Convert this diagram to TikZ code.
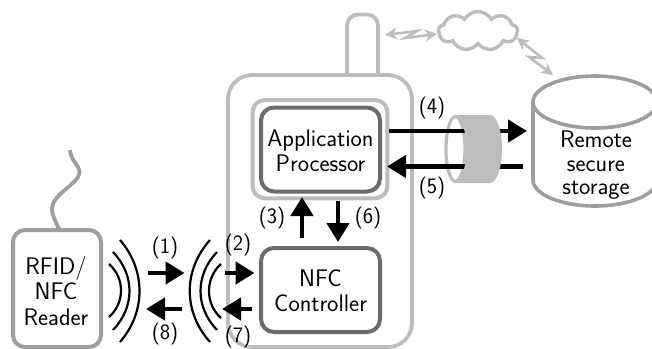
\documentclass[tikz,border=0pt]{standalone}
\usepackage{fontspec}
\usetikzlibrary{arrows.meta,shapes.symbols}
\definecolor{lg}{gray}{0.74}
\definecolor{mg}{gray}{0.62}
\definecolor{dg}{gray}{0.42}
\tikzset{
 x=1pt,y=-1pt,
 txt/.style={font=\sffamily\fontsize{24}{25.5}\selectfont,align=center,text=black,inner sep=0pt},
 txtb/.style={font=\sffamily\fontsize{24}{23.5}\selectfont,align=center,text=black,inner sep=0pt},
 lab/.style={font=\sffamily\fontsize{22}{24}\selectfont,inner sep=0pt},
 flow/.style={line width=4.6pt,-{Triangle[length=19pt,width=22pt]},black},
 wave/.style={line width=2.2pt,black},
 radio/.style={line width=2.6pt,lg,{Stealth[length=12pt,width=12pt]}-{Stealth[length=12pt,width=12pt]}},
 procbox/.style={draw=dg,line width=4pt,rounded corners=13pt,fill=white,inner sep=0pt,minimum width=119pt,minimum height=84pt},
}
\begin{document}
\begin{tikzpicture}
\useasboundingbox (0,0) rectangle (652,348);
\begin{scope}
\clip (0,0) rectangle (652,348);
% antenna and phone
\draw[lg,line width=3.8pt,rounded corners=11pt] (347,76) -- (347,14.5) -- (378,14.5) -- (378,76);
\draw[lg,line width=3.8pt,rounded corners=24pt,fill=white] (228,347) -- (228,75) -- (412,75) -- (412,347) -- cycle;
\draw[lg,line width=4pt,rounded corners=12pt,fill=white] (252.7,100) rectangle (387.3,198.3);
% reader cable
\coordinate (cabletop) at (70,150);
\coordinate (cablebot) at (59,229);
\draw[mg,line width=3.8pt] (cabletop) .. controls (71,162) and (80,165) .. (79.5,173)
  .. controls (78,184) and (53,194) .. (52,208) .. controls (52,216) and (56,222) .. (cablebot);
% reader
\node[draw=mg,line width=4pt,rounded corners=12pt,fill=white,minimum width=88pt,minimum height=117pt,inner sep=0pt] (reader) at (57,288.5) {};
\node[txt] (readertxt) at (56,291) {RFID/\\NFC\\Reader};
% cylinder
\draw[mg,line width=3.6pt,fill=white] (533,102) -- (533,180) arc[start angle=180,end angle=360,x radius=62pt,y radius=26pt] -- (657,102);
\draw[mg,line width=3.6pt,fill=white] (595,102) ellipse[x radius=62pt,y radius=26pt];
\node[txtb] (storage) at (596,165.5) {Remote\\secure\\storage};
% boxes
\node[procbox] (app) at (320.5,149.5) {};
\node[txt] (apptxt) at (320.5,151) {Application\\Processor};
\node[procbox] (nfc) at (320.5,290) {};
\node[txt] (nfctxt) at (320.5,291) {NFC\\Controller};
% ring outline, then flows, then ring body over the flows
\draw[lg,line width=3.2pt] (455.5,149) ellipse[x radius=9.5pt,y radius=32.5pt];
\coordinate (a4) at (389,131);\coordinate (b4) at (527,131);
\coordinate (a5) at (523,166.5);\coordinate (b5) at (387,166.5);
\draw[flow] (a4) -- (b4);
\draw[flow] (a5) -- (b5);
\path[fill=lg] (456,115) -- (490,115) arc[start angle=90,end angle=-90,x radius=12pt,y radius=34pt] -- (456,183)
   arc[start angle=-90,end angle=90,x radius=10pt,y radius=34pt] -- cycle;
% short flows
\draw[flow] (148,273) -- (184.5,273);
\draw[flow] (182,309) -- (146,309);
\draw[flow] (225,273) -- (254.5,273);
\draw[flow] (252,309) -- (222,309);
\draw[flow] (302,238) -- (302,197);
\draw[flow] (338,200.5) -- (338,242);
% waves
\draw[wave] (109,264) .. controls (125,278) and (125,303) .. (109,317);
\draw[wave] (113,252) .. controls (135,275) and (135,307) .. (113,330);
\draw[wave] (120,240) .. controls (146,270) and (146,312) .. (120,342);
\draw[wave] (221,264) .. controls (205,278) and (205,304) .. (221,318);
\draw[wave] (217,252) .. controls (195,275) and (195,307) .. (217,330);
\draw[wave] (210,240) .. controls (183,270) and (183,312) .. (210,342);
% labels
\node[lab] (l1) at (165,248) {(1)};
\node[lab] (l2) at (238,245) {(2)};
\node[lab] (l3) at (272,218) {(3)};
\node[lab] (l4) at (432,108) {(4)};
\node[lab] (l5) at (432,188) {(5)};
\node[lab] (l6) at (368,218) {(6)};
\node[lab] (l7) at (238,337) {(7)};
\node[lab] (l8) at (165,334) {(8)};
% cloud
\node[cloud,draw=lg,line width=3.4pt,fill=white,cloud puffs=9,cloud puff arc=120,aspect=2,minimum width=79pt,minimum height=39pt,inner sep=0pt] (net) at (478,31) {};
\coordinate (ant) at (385,35);
\coordinate (netl) at (437,34);
\coordinate (netr) at (517,38);
\coordinate (stor) at (553,75);
\draw[radio] (ant) -- (417,31) -- (405,38) -- (netl);
\draw[radio] (netr) -- (542,58) -- (529,57) -- (stor);
\end{scope}
\end{tikzpicture}
\end{document}
